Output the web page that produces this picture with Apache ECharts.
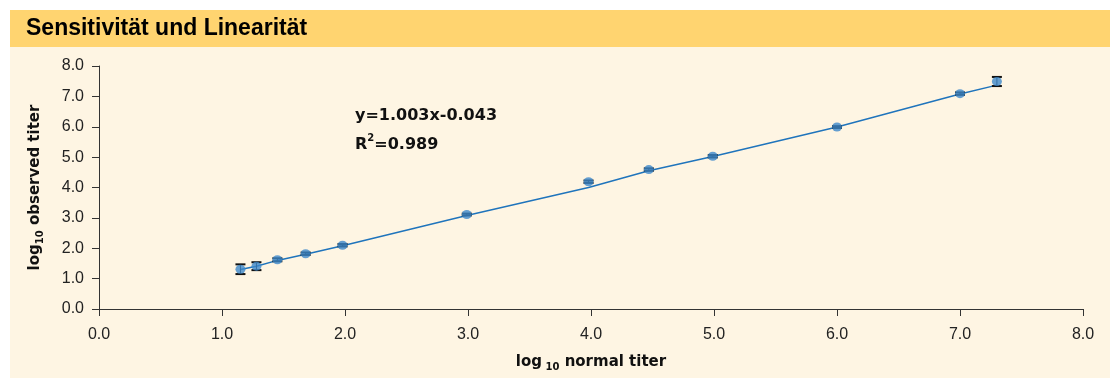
<!DOCTYPE html>
<html>
<head>
<meta charset="utf-8">
<script src="https://cdn.jsdelivr.net/npm/echarts@6/dist/echarts.min.js"></script>
<style>
html,body{margin:0;padding:0;background:#fff;}
#c{width:1110px;height:378px;}
</style>
</head>
<body>
<div id="c"></div>
<script>
// ---- data ----
const normalTiter   = [1.15, 1.28, 1.45, 1.68, 1.98, 2.99, 3.98, 4.47, 4.99, 6.00, 7.00, 7.30];
const observedTiter = [1.31, 1.41, 1.62, 1.82, 2.10, 3.11, 4.19, 4.59, 5.03, 5.99, 7.09, 7.49];
const errorSize     = [0.16, 0.13, 0.05, 0.04, 0.04, 0.03, 0.04, 0.04, 0.04, 0.03, 0.04, 0.15];
const fitLine       = [1.30, 1.41, 1.60, 1.80, 2.08, 3.08, 4.00, 4.55, 5.02, 5.99, 7.08, 7.37];
const titleText = 'Sensitivität und Linearität';
const equationText = 'y=1.003x-0.043';
const r2Text = '0.989';

const FONT = 'Liberation Sans, Arial, sans-serif';
const BFONT = 'DejaVu Sans, Liberation Sans, sans-serif';
const chart = echarts.init(document.getElementById('c'), null, {renderer: 'canvas'});

const pts = normalTiter.map((x, i) => [x, observedTiter[i]]);
const fit = normalTiter.map((x, i) => [x, fitLine[i]]);
const errs = normalTiter.map((x, i) => [x, observedTiter[i] - errorSize[i], observedTiter[i] + errorSize[i]]);

const nameRich = {
  b: {fontFamily: BFONT, fontWeight: 'bold', fontSize: 15, color: '#111', lineHeight: 20, verticalAlign: 'middle'},
  s: {fontFamily: BFONT, fontWeight: 'bold', fontSize: 10, color: '#111', lineHeight: 20, verticalAlign: 'bottom'}
};

const option = {
  backgroundColor: '#ffffff',
  animation: false,
  graphic: [
    {type: 'rect', z: -10, shape: {x: 10, y: 10, width: 1100, height: 37}, style: {fill: '#FFD470'}},
    {type: 'rect', z: -10, shape: {x: 10, y: 47, width: 1100, height: 331}, style: {fill: '#FEF5E3'}},
    {type: 'text', left: 355, top: 108, style: {
      text: equationText, font: 'bold 16px ' + BFONT, fill: '#111'}},
    {type: 'text', left: 355, top: 133, style: {
      text: '{b|R}{sup|2}{b|=' + r2Text + '}',
      rich: {
        b: {font: 'bold 16px ' + BFONT, fill: '#111', lineHeight: 24, verticalAlign: 'middle'},
        sup: {font: 'bold 10px ' + BFONT, fill: '#111', lineHeight: 24, verticalAlign: 'top'}
      }}}
  ],
  title: {
    text: titleText, left: 26, top: 17, padding: 0,
    textStyle: {fontFamily: FONT, fontWeight: 'bold', fontSize: 23, color: '#000'}
  },
  grid: {left: 99, right: 27, top: 66, bottom: 69, containLabel: false},
  xAxis: {
    type: 'value', min: 0, max: 8, interval: 1,
    axisLine: {lineStyle: {color: '#333', width: 1}},
    axisTick: {show: true, length: 7, lineStyle: {color: '#333'}},
    splitLine: {show: false},
    axisLabel: {fontFamily: FONT, fontSize: 16, color: '#222', margin: 18, formatter: v => v.toFixed(1)},
    name: '{b|log}{s| 10}{b| normal titer}',
    nameLocation: 'middle', nameGap: 43,
    nameTextStyle: {rich: nameRich}
  },
  yAxis: {
    type: 'value', min: 0, max: 8, interval: 1,
    axisLine: {show: true, lineStyle: {color: '#333', width: 1}},
    axisTick: {show: true, length: 7, lineStyle: {color: '#333'}},
    splitLine: {show: false},
    axisLabel: {fontFamily: FONT, fontSize: 16, color: '#222', margin: 15, formatter: v => v.toFixed(1)},
    name: '{b|log}{s|10}{b| observed titer}',
    nameLocation: 'middle', nameGap: 54, nameRotate: 90,
    nameTextStyle: {rich: nameRich}
  },
  series: [
    {
      type: 'line', data: fit, symbol: 'none', z: 2,
      lineStyle: {color: '#1F74BC', width: 1.5}
    },
    {
      type: 'custom', z: 3,
      data: errs,
      renderItem: function (params, api) {
        const x = api.value(0);
        const lo = api.coord([x, api.value(1)]);
        const hi = api.coord([x, api.value(2)]);
        const hw = 5;
        const st = {stroke: '#111', lineWidth: 1};
        const cs = {stroke: '#111', lineWidth: 2};
        return {
          type: 'group',
          children: [
            {type: 'line', shape: {x1: lo[0], y1: lo[1], x2: hi[0], y2: hi[1]}, style: st},
            {type: 'line', shape: {x1: lo[0] - hw, y1: lo[1], x2: lo[0] + hw, y2: lo[1]}, style: cs},
            {type: 'line', shape: {x1: hi[0] - hw, y1: hi[1], x2: hi[0] + hw, y2: hi[1]}, style: cs}
          ]
        };
      }
    },
    {
      type: 'scatter', data: pts, z: 4,
      symbol: 'circle', symbolSize: [10, 9],
      itemStyle: {color: '#3D88CB'}
    }
  ]
};
chart.setOption(option);
</script>
</body>
</html>
